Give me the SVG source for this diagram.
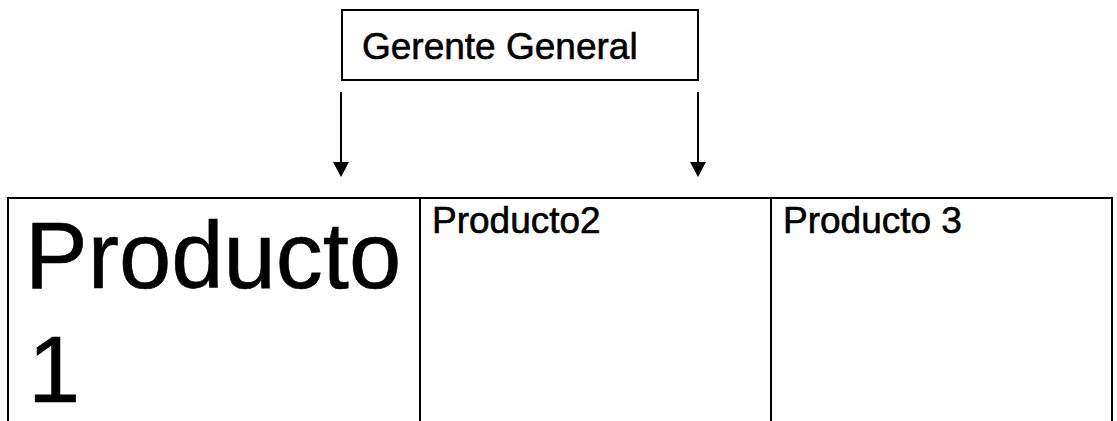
<svg xmlns="http://www.w3.org/2000/svg" width="1117" height="421" viewBox="0 0 1117 421">
<style>
.box{fill:#fff;stroke:#000;stroke-width:2}
.ln{stroke:#000;stroke-width:2;fill:none}
.t{font-family:"Liberation Sans",Arial,sans-serif;fill:#000;stroke:#000;stroke-width:0.6}
.hd{fill:#000}
</style>
<rect width="1117" height="421" fill="#fff"/>
<g id="gerente">
<rect class="box" x="342" y="10" width="356" height="70"/>
<text class="t" x="362" y="59" font-size="37">Gerente General</text>
</g>
<g id="connectors">
<line class="ln" x1="341" y1="92" x2="341" y2="164"/>
<polygon class="hd" points="333,162 349,162 341,177"/>
<line class="ln" x1="698" y1="92" x2="698" y2="164"/>
<polygon class="hd" points="690,162 706,162 698,177"/>
</g>
<g id="producto1">
<path class="ln" d="M8,421 V198 H420 V421"/>
<text class="t" x="25" y="288" font-size="94">Producto</text>
<text class="t" x="28" y="402" font-size="94">1</text>
</g>
<g id="producto2">
<path class="ln" d="M420,198 H771 V421"/>
<text class="t" x="432" y="233" font-size="37">Producto2</text>
</g>
<g id="producto3">
<path class="ln" d="M771,198 H1112 V421"/>
<text class="t" x="783" y="233" font-size="37">Producto 3</text>
</g>
</svg>
